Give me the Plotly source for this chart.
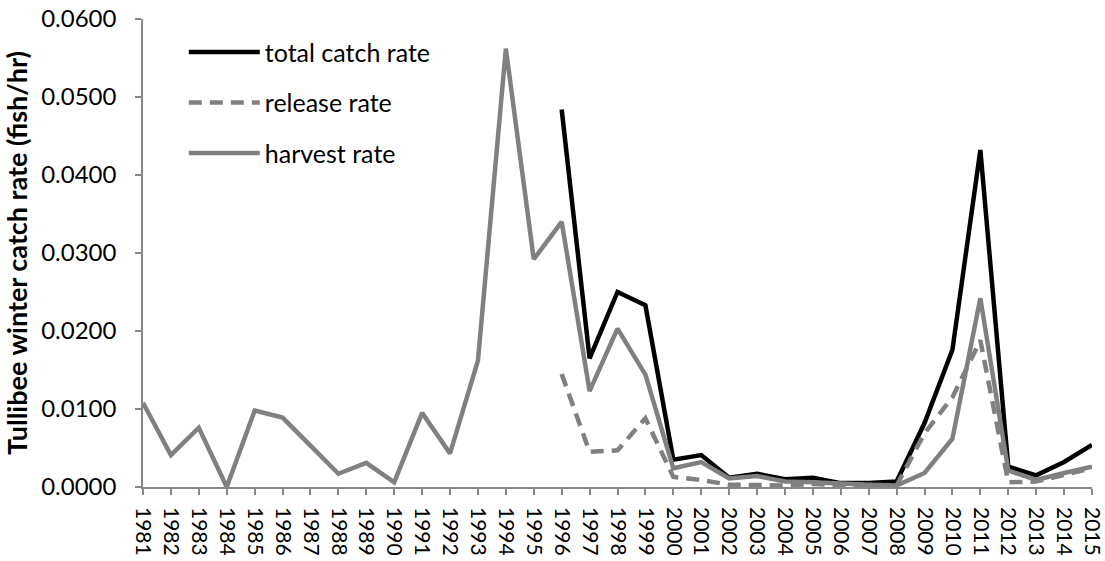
import plotly.graph_objects as go

years = [str(y) for y in range(1981, 2016)]

total_catch_rate = [None]*15 + [
    0.0484, 0.0165, 0.0250, 0.0233, 0.0035, 0.0041, 0.0012, 0.0017, 0.0010,
    0.0012, 0.0005, 0.0005, 0.0007, 0.0082, 0.0176, 0.0432, 0.0026, 0.0015,
    0.0032, 0.0054]

release_rate = [None]*15 + [
    0.0145, 0.0045, 0.0047, 0.0088, 0.0013, 0.0009, 0.0003, 0.0003, 0.0002,
    0.0004, 0.0002, 0.0002, 0.0002, 0.0069, 0.0115, 0.0188, 0.0006, 0.0007,
    0.0015, 0.0024]

harvest_rate = [
    0.0108, 0.0041, 0.0076, 0.0000, 0.0098, 0.0089, 0.0053, 0.0017, 0.0031,
    0.0006, 0.0095, 0.0043, 0.0162, 0.0562, 0.0292, 0.0340, 0.0123, 0.0203,
    0.0144, 0.0024, 0.0032, 0.0011, 0.0014, 0.0007, 0.0006, 0.0004, 0.0003,
    0.0002, 0.0018, 0.0062, 0.0242, 0.0021, 0.0009, 0.0018, 0.0026]

FONT = "Lato"
GRAY = "#808080"
AXIS = "#868686"

fig = go.Figure()
fig.add_trace(go.Scatter(x=years, y=total_catch_rate, mode="lines", name="total catch rate",
                         line=dict(color="#000000", width=4.5), legendgroup="a"))
fig.add_trace(go.Scatter(x=years, y=release_rate, mode="lines", name="release rate",
                         line=dict(color=GRAY, width=4.5, dash="13px,8px"), legendgroup="b"))
fig.add_trace(go.Scatter(x=years, y=harvest_rate, mode="lines", name="harvest rate",
                         line=dict(color=GRAY, width=4.5), legendgroup="c"))

fig.update_layout(
    width=1105, height=561,
    margin=dict(l=143, r=13, t=19, b=74),
    paper_bgcolor="white", plot_bgcolor="white",
    font=dict(family=FONT, color="#000000", size=21),
    legend=dict(x=0.043, y=0.978, xanchor="left", yanchor="top",
                bgcolor="rgba(0,0,0,0)", borderwidth=0, itemwidth=71,
                font=dict(family=FONT, size=25, color="#000000"),
                tracegroupgap=15, traceorder="grouped"),
    xaxis=dict(type="category", range=[0, 34], showgrid=False, zeroline=False,
               automargin=False,
               showline=True, linecolor=AXIS, linewidth=1.5,
               ticks="outside", ticklen=6, tickcolor=AXIS, tickwidth=1.5,
               tickangle=90, tickfont=dict(family=FONT, size=21, color="#000000"),
               ticklabelstandoff=8),
    yaxis=dict(range=[0, 0.06], dtick=0.01, tickformat=".4f", showgrid=False, zeroline=False,
               automargin=False,
               showline=True, linecolor=AXIS, linewidth=1.5,
               ticks="outside", ticklen=6, tickcolor=AXIS, tickwidth=1.5,
               tickfont=dict(family=FONT, size=24, color="#000000"),
               ticklabelstandoff=14,
               title=dict(text="<b>Tullibee winter catch rate (fish/hr)</b>",
                          font=dict(family=FONT, size=27, color="#000000"), standoff=6)),
)

fig.write_html("out.html", config={"displayModeBar": False},
               post_script="document.body.style.margin='0px';")
